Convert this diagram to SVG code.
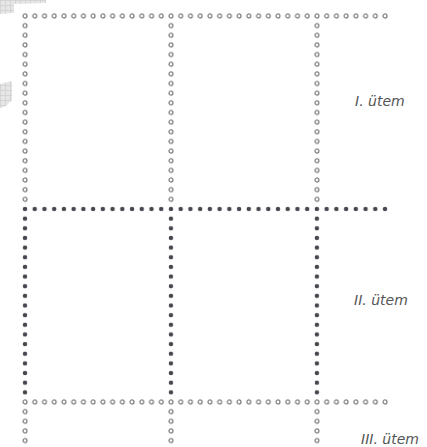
<svg xmlns="http://www.w3.org/2000/svg" width="427" height="447" viewBox="0 0 427 447">
  <style>
    .lbl { font-family: "DejaVu Sans", "Liberation Sans", sans-serif; font-style: italic; font-size: 14px; fill: #555; }
  </style>
  <defs>
    <pattern id="open" patternUnits="userSpaceOnUse" x="20.135" y="11.175" width="9.73" height="9.65">
      <circle cx="4.865" cy="4.825" r="1.95" fill="none" stroke="#7a7a7a" stroke-width="1.2"/>
    </pattern>
    <pattern id="full" patternUnits="userSpaceOnUse" x="20.135" y="11.175" width="9.73" height="9.65">
      <circle cx="4.865" cy="4.825" r="2.25" fill="#47464e"/>
    </pattern>
    <pattern id="grid" patternUnits="userSpaceOnUse" width="5" height="5">
      <rect width="5" height="5" fill="#e6e6e6"/>
      <path d="M0 0.5H5M0.5 0V5" stroke="#d0d0d0" stroke-width="0.8"/>
    </pattern>
  </defs>
  <rect width="427" height="447" fill="#ffffff"/>
  <g id="scan-marks">
    <polygon points="0,0 46,0 46,3 14,4 14,13 0,14" fill="url(#grid)"/>
    <polygon points="0,84 12,81 12,100 6,106 0,108" fill="url(#grid)"/>
  </g>
  <g id="dots">
    <rect x="20.135" y="11.175" width="369.74" height="9.65" fill="url(#open)"/>
    <rect x="20.135" y="20.825" width="9.73" height="183.35" fill="url(#open)"/>
    <rect x="166.085" y="20.825" width="9.73" height="183.35" fill="url(#open)"/>
    <rect x="312.035" y="20.825" width="9.73" height="183.35" fill="url(#open)"/>
    <rect x="20.135" y="204.175" width="369.74" height="9.65" fill="url(#full)"/>
    <rect x="20.135" y="213.825" width="9.73" height="183.35" fill="url(#full)"/>
    <rect x="166.085" y="213.825" width="9.73" height="183.35" fill="url(#full)"/>
    <rect x="312.035" y="213.825" width="9.73" height="183.35" fill="url(#full)"/>
    <rect x="20.135" y="397.175" width="369.74" height="9.65" fill="url(#open)"/>
    <rect x="20.135" y="406.825" width="9.73" height="38.6" fill="url(#open)"/>
    <rect x="166.085" y="406.825" width="9.73" height="38.6" fill="url(#open)"/>
    <rect x="312.035" y="406.825" width="9.73" height="38.6" fill="url(#open)"/>
  </g>
  <g id="labels">
    <text class="lbl" x="355" y="106">I. ütem</text>
    <text class="lbl" x="354" y="305">II. ütem</text>
    <text class="lbl" x="361" y="444">III. ütem</text>
  </g>
</svg>
